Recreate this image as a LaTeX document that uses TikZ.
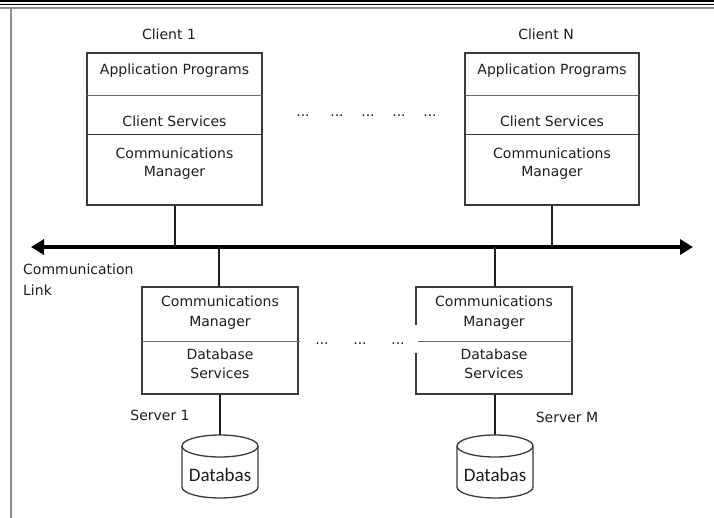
\documentclass[tikz,border=0pt]{standalone}
\usepackage{fontspec}
\setmainfont{DejaVu Sans}
\newfontfamily\dbfont{Carlito}
\usetikzlibrary{arrows.meta}
\definecolor{ink}{HTML}{1E1E1E}
\definecolor{edge}{HTML}{3A3A3A}
\definecolor{divc}{HTML}{6A6A6A}
\definecolor{framec}{HTML}{8C8C8C}
\begin{document}
\begin{tikzpicture}[x=1pt,y=-1pt,
  lbl/.style={text=ink,font=\fontsize{14}{19}\selectfont,inner sep=0pt,align=center},
  boxc/.style={draw=edge,line width=1.3pt,fill=none,inner sep=0pt},
  divline/.style={draw=divc,line width=1pt},
  link/.style={draw=ink,line width=1.3pt},
  dotsn/.style={text=ink,font=\fontsize{14}{17}\selectfont,inner sep=0pt},
  dbshape/.style={draw=edge,line width=1.3pt,fill=white}
]
\useasboundingbox (0,0) rectangle (714,518);
% frame
\draw[black,line width=2.2pt] (0,1.2) -- (714,1.2);
\draw[black,line width=1pt] (0,4.8) -- (714,4.8);
\draw[framec,line width=2pt] (0,8) -- (714,8);
\draw[framec,line width=1.6pt] (11,8) -- (11,518);

% client boxes
\node[boxc,minimum width=175pt,minimum height=152pt] (c1) at (174.5,129) {};
\node[boxc,minimum width=174pt,minimum height=152pt] (cn) at (552,129) {};
\draw[divline] (87,96) -- (262,96);
\draw[divline,draw=edge] (87,135) -- (262,135);
\draw[divline] (465,96) -- (639,96);
\draw[divline,draw=edge] (465,135) -- (639,135);

\node[lbl] (c1lab) at (169,34) {Client 1};
\node[lbl] (cnlab) at (546,34) {Client N};
\node[lbl] (c1a) at (174.5,71) {Application Programs};
\node[lbl] (c1s) at (174.5,121) {Client Services};
\node[lbl,font=\fontsize{14}{18}\selectfont] (c1m) at (174.5,164) {Communications\\Manager};
\node[lbl] (cna) at (552,71) {Application Programs};
\node[lbl] (cns) at (552,121) {Client Services};
\node[lbl,font=\fontsize{14}{18}\selectfont] (cnm) at (552,164) {Communications\\Manager};

% top dots
\node[dotsn] (d1) at (303,116) {...};
\node[dotsn] (d2) at (337,116) {...};
\node[dotsn] (d3) at (368,116) {...};
\node[dotsn] (d4) at (399,116) {...};
\node[dotsn] (d5) at (430,116) {...};

% bus
\coordinate (busL) at (31,247);
\coordinate (busR) at (693,247);
\draw[black,line width=4.5pt,{Triangle[length=13pt,width=15pt]}-{Triangle[length=13pt,width=15pt]}] (busL) -- (busR);
\coordinate (b1) at (175,247);
\coordinate (b2) at (552,247);
\coordinate (b3) at (219,247);
\coordinate (b4) at (495,247);
\draw[link] (c1.south -| b1) -- (b1);
\draw[link] (cn.south -| b2) -- (b2);

\node[lbl,anchor=north west,align=left,font=\fontsize{14}{21}\selectfont] (cl) at (23,264) {Communication\\Link};

% server boxes
\node[boxc,minimum width=156pt,minimum height=107pt] (s1) at (220,340.5) {};
\node[boxc,minimum width=156pt,minimum height=107pt] (sm) at (494,340.5) {};
\fill[white] (413,325) rectangle (419.5,353);
\draw[divline] (142,341) -- (300,341);
\draw[divline] (418,341) -- (572,341);
\draw[link] (b3) -- (s1.north -| b3);
\draw[link] (b4) -- (sm.north -| b4);

\node[lbl,font=\fontsize{14}{20}\selectfont] (s1m) at (220,313) {Communications\\Manager};
\node[lbl,font=\fontsize{14}{19}\selectfont] (s1d) at (220,363.5) {Database\\Services};
\node[lbl,font=\fontsize{14}{20}\selectfont] (smm) at (494,313) {Communications\\Manager};
\node[lbl,font=\fontsize{14}{19}\selectfont] (smd) at (494,363.5) {Database\\Services};

% bottom dots
\node[dotsn] (e1) at (322,344) {...};
\node[dotsn] (e2) at (360,344) {...};
\node[dotsn] (e3) at (398,344) {...};

\node[lbl] (s1lab) at (160,415) {Server 1};
\node[lbl] (smlab) at (567,417) {Server M};

% databases
\coordinate (db1t) at (220,435);
\coordinate (dbmt) at (495,435);
\draw[link] (s1.south -| db1t) -- (db1t);
\draw[link] (sm.south -| dbmt) -- (dbmt);
\foreach \cx/\nm in {220/db1, 495/dbm}{
  \draw[dbshape] (\cx-38,446) -- (\cx-38,487) arc[start angle=180,end angle=0,x radius=38,y radius=11] -- (\cx+38,446);
  \draw[dbshape] (\cx,446) ellipse[x radius=38,y radius=11];
  \node[text=ink,font=\dbfont\fontsize{19}{22}\selectfont,inner sep=0pt] (\nm) at (\cx,475) {Databas};
}
\end{tikzpicture}
\end{document}
